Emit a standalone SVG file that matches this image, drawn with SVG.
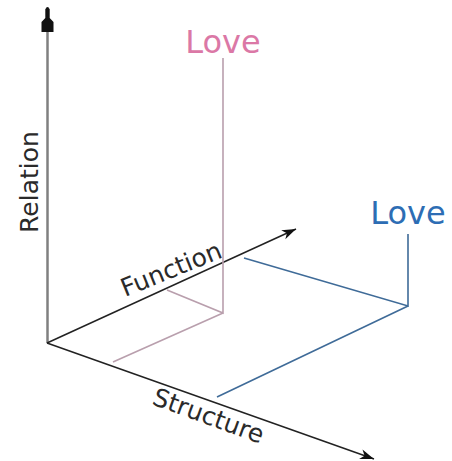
<svg xmlns="http://www.w3.org/2000/svg" width="452" height="461" viewBox="0 0 452 461">
<style>
.axis{fill:none;stroke:#222;stroke-width:1.5}
.vaxis{fill:none;stroke:#808080;stroke-width:2.5}
.pink{fill:none;stroke:#b99fad;stroke-width:1.6}
.blue{fill:none;stroke:#3f6b98;stroke-width:1.6}
.lbl{font-family:"DejaVu Sans",sans-serif;font-size:25px;fill:#2a2a2a}
.love{font-family:"DejaVu Sans",sans-serif;font-size:32px}
</style>
<defs>
<marker id="arr" markerUnits="userSpaceOnUse" markerWidth="20" markerHeight="14" viewBox="-16 -7 20 14" refX="0" refY="0" orient="auto">
<path d="M0,0 L-14,-5 L-10,0 L-14,5 Z" fill="#111"/>
</marker>
<marker id="varr" markerUnits="userSpaceOnUse" markerWidth="30" markerHeight="16" viewBox="-27 -8 30 16" refX="0" refY="0" orient="auto">
<path d="M0,0 L-2,2.2 L-11,2.2 L-15,6 L-25,6 L-25,-6 L-15,-6 L-11,-2.2 L-2,-2.2 Z" fill="#111"/>
</marker>
</defs>
<g id="connectors">
<line class="vaxis" x1="47.5" y1="343" x2="47.5" y2="7" marker-end="url(#varr)"/>
<line class="axis" x1="47" y1="343" x2="296" y2="229" marker-end="url(#arr)"/>
<line class="axis" x1="47" y1="343" x2="374" y2="459" marker-end="url(#arr)"/>
<path class="pink" d="M223,58 V313 L167,290 M223,313 L113,362"/>
<path class="blue" d="M408,234 V306 L244,258 M408,306 L217,397"/>
</g>
<g id="relation"><text class="lbl" transform="translate(38,182) rotate(-90)" text-anchor="middle">Relation</text></g>
<g id="function"><text class="lbl" transform="translate(125,297) rotate(-22)">Function</text></g>
<g id="structure"><text class="lbl" transform="translate(151,404) rotate(20)">Structure</text></g>
<g id="love-pink"><text class="love" x="223" y="53" text-anchor="middle" fill="#db78a6">Love</text></g>
<g id="love-blue"><text class="love" x="408" y="224" text-anchor="middle" fill="#2d6db4">Love</text></g>
</svg>
